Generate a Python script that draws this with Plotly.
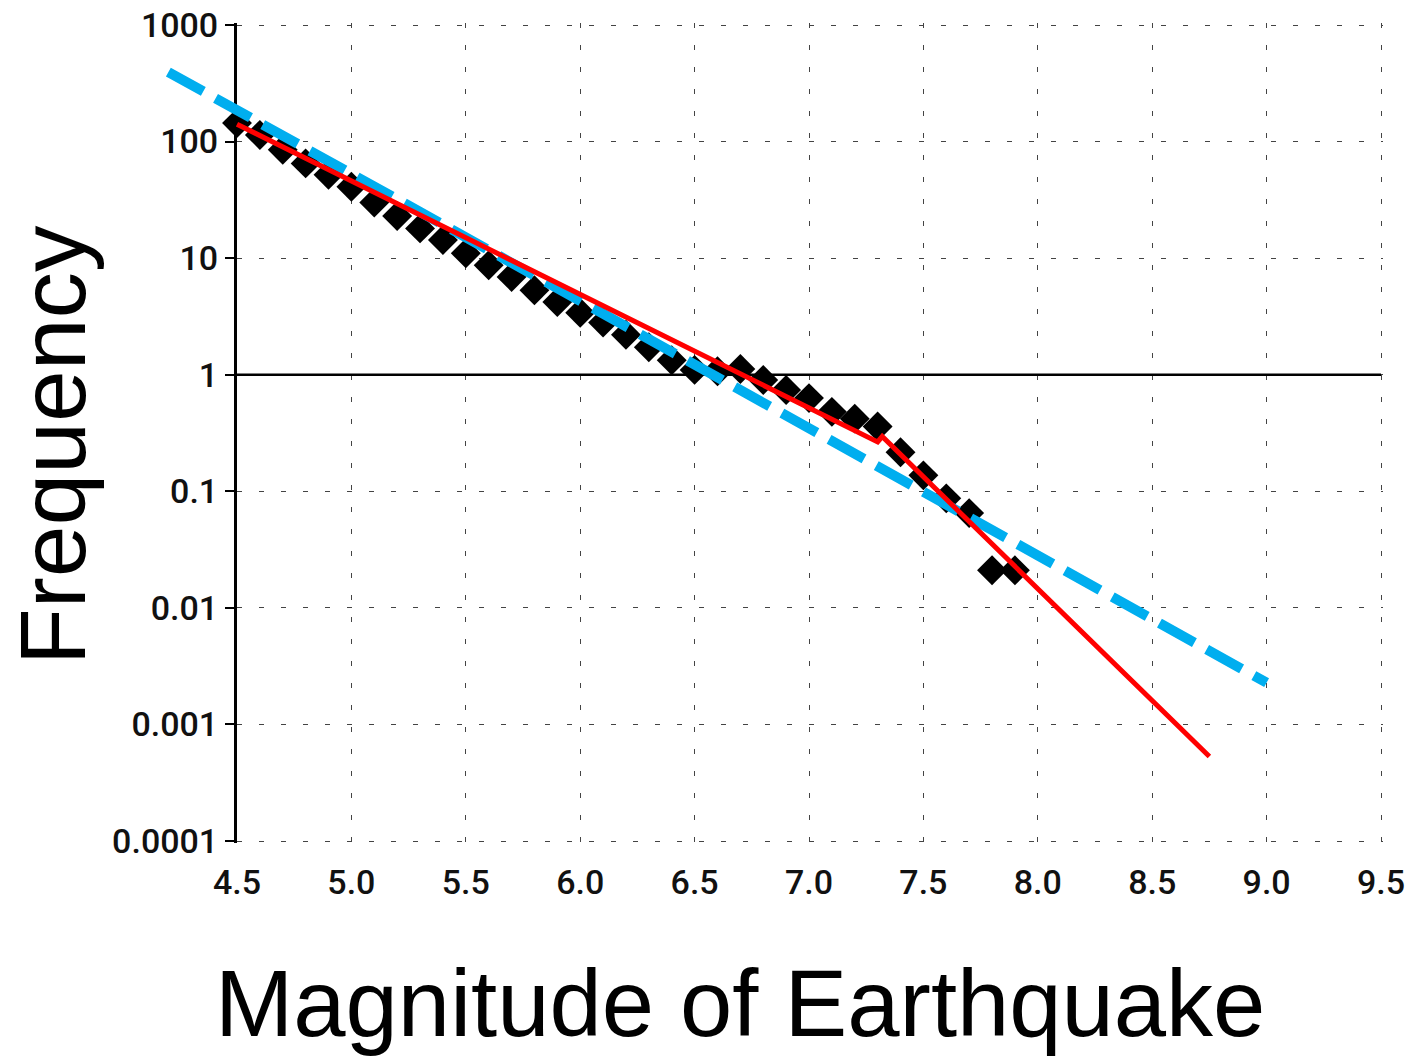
import plotly.graph_objects as go

# Observed earthquake frequency per magnitude bin
magnitudes = [4.5, 4.6, 4.7, 4.8, 4.9, 5.0, 5.1, 5.2, 5.3, 5.4,
              5.5, 5.6, 5.7, 5.8, 5.9, 6.0, 6.1, 6.2, 6.3, 6.4,
              6.5, 6.6, 6.7, 6.8, 6.9, 7.0, 7.1, 7.2, 7.3, 7.4,
              7.5, 7.6, 7.7, 7.8, 7.9]
frequency = [144, 114, 85, 65, 52, 41, 30, 23, 18, 14.3,
             11, 8.7, 6.9, 5.3, 4.2, 3.4, 2.8, 2.2, 1.72, 1.33,
             1.1, 1.07, 1.12, 0.90, 0.74, 0.63, 0.48, 0.42, 0.36, 0.216,
             0.137, 0.087, 0.065, 0.021, 0.021]

# Two-segment (kinked) fit
fit_mag = [4.5, 7.3, 7.32, 8.75]
fit_freq = [141, 0.265, 0.295, 0.00053]

# Single straight-line trend
trend_mag = [4.2, 9.0]
trend_freq = [395, 0.00228]

x_ticks = [4.5, 5.0, 5.5, 6.0, 6.5, 7.0, 7.5, 8.0, 8.5, 9.0, 9.5]
x_labels = ["4.5", "5.0", "5.5", "6.0", "6.5", "7.0", "7.5", "8.0", "8.5", "9.0", "9.5"]
y_ticks = [1000, 100, 10, 1, 0.1, 0.01, 0.001, 0.0001]
y_labels = ["1000", "100", "10", "1", "0.1", "0.01", "0.001", "0.0001"]

W, H = 1412, 1057
EDGE = 2  # small overshoot so the border gridlines are kept
ML, MR, MT, MB = 150, 31 - EDGE, 25 - EDGE, 216 - EDGE
plot_w = W - ML - MR
plot_h = H - MT - MB
axis_left = 87  # px from left margin to the y axis
px_per_unit = 228.8
px_per_decade = 816 / 7.0

x_range = [4.5, 9.5 + EDGE / px_per_unit]
x2_range = [4.5 - axis_left / px_per_unit, x_range[1]]
y_range = [-4 - EDGE / px_per_decade, 3 + EDGE / px_per_decade]

tick_font = dict(family="Roboto, Liberation Sans, Arial", size=34, color="#111", weight=500)
grid = dict(showgrid=True, gridcolor="#444", gridwidth=1, griddash="5px,17px")

fig = go.Figure()

fig.add_trace(go.Scatter(
    x=magnitudes, y=frequency, mode="markers",
    marker=dict(symbol="diamond", size=23, color="black", line=dict(width=0)),
    xaxis="x2", yaxis="y2", cliponaxis=False, showlegend=False,
))
fig.add_trace(go.Scatter(
    x=trend_mag, y=trend_freq, mode="lines",
    line=dict(color="#00AEEF", width=10, dash="40px,14px"),
    xaxis="x2", yaxis="y2", showlegend=False,
))
fig.add_trace(go.Scatter(
    x=fit_mag, y=fit_freq, mode="lines",
    line=dict(color="#FF0000", width=5),
    xaxis="x2", yaxis="y2", showlegend=False,
))

fig.update_layout(
    width=W, height=H, autosize=False,
    margin=dict(l=ML, r=MR, t=MT, b=MB, pad=0),
    paper_bgcolor="white", plot_bgcolor="rgba(0,0,0,0)",
    showlegend=False,
    xaxis=dict(
        domain=[axis_left / plot_w, 1], range=x_range, anchor="y",
        tickmode="array", tickvals=x_ticks, ticktext=x_labels,
        ticks="", showline=False, zeroline=False, automargin=False,
        tickfont=tick_font, ticklabelstandoff=16,
        **grid,
    ),
    yaxis=dict(
        domain=[0, 1], type="log", range=y_range, anchor="x",
        tickmode="array", tickvals=y_ticks, ticktext=y_labels,
        ticks="outside", ticklen=9, tickwidth=2, tickcolor="black",
        showline=True, linecolor="black", linewidth=3, automargin=False,
        tickfont=tick_font, zeroline=False,
        **grid,
    ),
    xaxis2=dict(
        domain=[0, 1], range=x2_range, anchor="y2", visible=False,
        automargin=False,
    ),
    yaxis2=dict(
        domain=[0, 1], type="log", range=y_range, anchor="x2", visible=False,
        automargin=False,
    ),
    shapes=[dict(
        type="line", xref="x", yref="y", x0=4.5, x1=9.5, y0=1, y1=1,
        line=dict(color="black", width=2.5), layer="between",
    )],
    annotations=[
        dict(
            text="Frequency", textangle=-90, showarrow=False,
            xref="paper", yref="paper",
            x=(53 - ML) / plot_w, y=(H - MB - 445) / plot_h,
            xanchor="center", yanchor="middle",
            font=dict(family="Liberation Sans, Arial", size=93, color="black"),
        ),
        dict(
            text="Magnitude of Earthquake", showarrow=False,
            xref="paper", yref="paper",
            x=(739.5 - ML) / plot_w, y=(H - MB - 1003) / plot_h,
            xanchor="center", yanchor="middle",
            font=dict(family="Liberation Sans, Arial", size=94, color="black"),
        ),
    ],
)

fig.write_html("out.html")
